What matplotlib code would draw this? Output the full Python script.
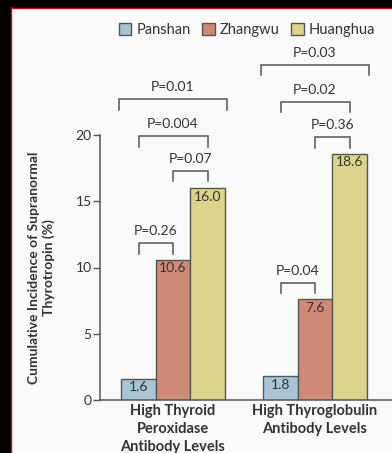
import matplotlib
matplotlib.use("Agg")
import matplotlib.pyplot as plt
from matplotlib.patches import Rectangle
from matplotlib.lines import Line2D

plt.rcParams['font.family'] = ['Lato', 'DejaVu Sans']

groups = ["High Thyroid\nPeroxidase\nAntibody Levels", "High Thyroglobulin\nAntibody Levels"]
regions = ["Panshan", "Zhangwu", "Huanghua"]
values = {
    "Panshan": [1.6, 1.8],
    "Zhangwu": [10.6, 7.6],
    "Huanghua": [16.0, 18.6],
}
colors = ["#a9c4d3", "#cf8a77", "#dcd48b"]
y_ticks = [0, 5, 10, 15, 20]
# (group, bar_i, bar_j, p label, bracket top y)
comparisons = [
    (0, 0, 1, "P=0.26", 11.85),
    (0, 1, 2, "P=0.07", 17.3),
    (0, 0, 2, "P=0.004", 19.9),
    (0, None, None, "P=0.01", 22.7),
    (1, 0, 1, "P=0.04", 8.85),
    (1, 1, 2, "P=0.36", 19.85),
    (1, 0, 2, "P=0.02", 22.5),
    (1, None, None, "P=0.03", 25.3),
]

W, H = 392, 453
fig = plt.figure(figsize=(W / 100, H / 100), dpi=100, facecolor="#fafafa")

# dark frame at top/left with thin red line
fig.patches.append(Rectangle((0, 1 - 7 / H), 1, 7 / H, transform=fig.transFigure, color="black", zorder=-5))
fig.patches.append(Rectangle((0, 0), 10 / W, 1, transform=fig.transFigure, color="black", zorder=-5))
fig.lines.append(Line2D([10.5 / W, 10.5 / W], [0, 1 - 7 / H], transform=fig.transFigure, color="#d01010", lw=1.0))
fig.lines.append(Line2D([10.5 / W, 1], [1 - 7.5 / H, 1 - 7.5 / H], transform=fig.transFigure, color="#d01010", lw=1.0))

px_unit = 13.25
ax_left_px, ax_right_px = 100, 392
ax_bottom_px, ax_top_px = 400, 20
ax = fig.add_axes([ax_left_px / W, (H - ax_bottom_px) / H,
                   (ax_right_px - ax_left_px) / W, (ax_bottom_px - ax_top_px) / H])
ax.set_facecolor("none")
group_px = 142.0
w = 34.5 / group_px
ax.set_xlim(-(173 - ax_left_px) / group_px, (ax_right_px - 173) / group_px)
ax.set_ylim(0, (ax_bottom_px - ax_top_px) / px_unit)

txt = "#333333"
edge = "#555555"
fs = 10
for i, r in enumerate(regions):
    xs = [g + (i - 1) * w for g in range(len(groups))]
    ax.bar(xs, values[r], width=w, color=colors[i], edgecolor=edge, linewidth=1.0,
           label=r, zorder=2)
    for x, v in zip(xs, values[r]):
        ax.text(x, v - 0.2, f"{v:.1f}", ha="center", va="top", fontsize=fs, color=txt, zorder=3)

leg_h = 0.8
for g, bi, bj, lab, top in comparisons:
    if bi is None:
        x0, x1 = g - 0.377, g + 0.377
    else:
        x0, x1 = g + (bi - 1) * w, g + (bj - 1) * w
    ax.plot([x0, x0, x1, x1], [top - leg_h, top, top, top - leg_h], color="#555555", lw=1.1,
            clip_on=False, solid_joinstyle="miter")
    ax.text((x0 + x1) / 2, top + 0.45, lab, ha="center", va="bottom", fontsize=fs, color=txt)

for s in ["top", "right"]:
    ax.spines[s].set_visible(False)
ax.spines["left"].set_bounds(0, 20)
ax.spines["left"].set_color("#555555")
ax.spines["bottom"].set_color("#555555")
ax.spines["left"].set_linewidth(1.1)
ax.spines["bottom"].set_linewidth(1.1)
ax.set_yticks(y_ticks)
ax.set_yticklabels([str(t) for t in y_ticks], fontsize=fs, color=txt)
ax.tick_params(axis="y", length=5, width=1.0, color="#555555", pad=1)
ax.set_xticks(range(len(groups)))
ax.set_xticklabels(groups, fontsize=10.5, fontweight="bold", color=txt, linespacing=1.35)
ax.tick_params(axis="x", length=0, pad=3)

ax.set_ylabel("Cumulative Incidence of Supranormal\nThyrotropin (%)", fontsize=10,
              fontweight="bold", color=txt, linespacing=1.2)
ax.yaxis.set_label_coords(-(100 - 55) / (ax_right_px - ax_left_px), 20 / 2 / ax.get_ylim()[1])

fig.legend(loc="center", bbox_to_anchor=(247 / W, 1 - 30 / H), ncol=3, frameon=False,
           fontsize=10.5, handlelength=0.85, handleheight=0.85, handletextpad=0.35,
           columnspacing=0.8, labelcolor=txt)

fig.savefig("out.png", dpi=100, facecolor=fig.get_facecolor())
